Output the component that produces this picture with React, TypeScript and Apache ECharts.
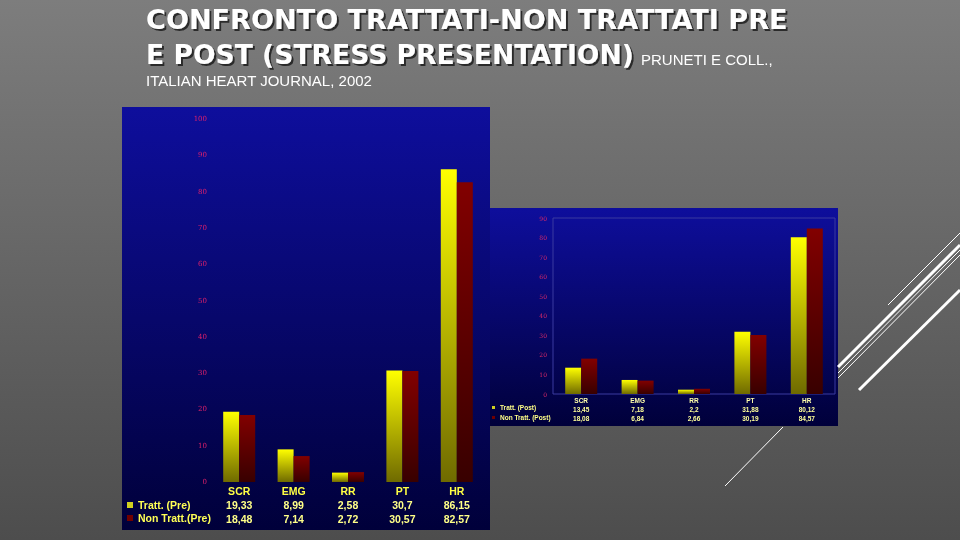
import React, { useEffect, useRef } from "react";
import * as echarts from "echarts";

const categories = ["SCR", "EMG", "RR", "PT", "HR"];
const trattPre = [19.33, 8.99, 2.58, 30.7, 86.15];
const nonTrattPre = [18.48, 7.14, 2.72, 30.57, 82.57];
const trattPost = [13.45, 7.18, 2.2, 31.88, 80.12];
const nonTrattPost = [18.08, 6.84, 2.66, 30.19, 84.57];
const preNames = ["Tratt. (Pre)", "Non Tratt.(Pre)"];
const postNames = ["Tratt. (Post)", "Non Tratt. (Post)"];
const preAxis = { min: 0, max: 100, interval: 10 };
const postAxis = { min: 0, max: 90, interval: 10 };
const titleLine1 = "CONFRONTO TRATTATI-NON TRATTATI PRE";
const titleLine2 = "E POST (STRESS PRESENTATION)";
const titleNote = "PRUNETI E COLL.,";
const titleLine3 = "ITALIAN HEART JOURNAL, 2002";

const fmt = (v: number) => String(v).replace(".", ",");

const yellowGrad = () =>
  new echarts.graphic.LinearGradient(0, 0, 0, 1, [
    { offset: 0, color: "#ffff00" },
    { offset: 1, color: "#6f6a00" },
  ]);
const redGrad = () =>
  new echarts.graphic.LinearGradient(0, 0, 0, 1, [
    { offset: 0, color: "#820000" },
    { offset: 1, color: "#380000" },
  ]);
const panelGrad = () =>
  new echarts.graphic.LinearGradient(0, 0, 0, 1, [
    { offset: 0, color: "#0e0e9c" },
    { offset: 1, color: "#00003a" },
  ]);

export default function App() {
  const ref = useRef<HTMLDivElement>(null);
  useEffect(() => {
    if (!ref.current) return;
    const chart = echarts.init(ref.current, null, { renderer: "svg" });
    const font = "DejaVu Sans";
    const tfont = "Liberation Sans";
    const shadow = {
      textShadowColor: "rgba(20,20,20,0.75)",
      textShadowOffsetX: 2,
      textShadowOffsetY: 2,
      textShadowBlur: 1,
    };
    const lineEl = (x1: number, y1: number, x2: number, y2: number, w: number) => ({
      type: "line",
      z: -5,
      shape: { x1, y1, x2, y2 },
      style: { stroke: "#ffffff", lineWidth: w },
    });
    const option: any = {
      animation: false,
      graphic: [
        {
          type: "rect",
          z: -20,
          shape: { x: 0, y: 0, width: 960, height: 540 },
          style: {
            fill: new echarts.graphic.LinearGradient(0, 0, 0, 1, [
              { offset: 0, color: "#7d7d7d" },
              { offset: 1, color: "#4d4d4d" },
            ]),
          },
        },
        lineEl(888, 305, 960, 233, 1),
        lineEl(838, 367, 960, 245, 3),
        lineEl(838, 373, 960, 250, 1),
        lineEl(838, 378, 960, 255, 1),
        lineEl(859, 390, 960, 290, 3),
        lineEl(725, 486, 783, 427, 1),
        {
          type: "rect",
          z: -10,
          shape: { x: 122, y: 107, width: 368, height: 423 },
          style: { fill: panelGrad() },
        },
        {
          type: "rect",
          z: -9,
          shape: { x: 490, y: 208, width: 348, height: 218 },
          style: { fill: panelGrad() },
        },
        {
          type: "text",
          z: 10,
          x: 146,
          y: 19,
          style: {
            text: titleLine1,
            fill: "#ffffff",
            font: `bold 27.1px "${font}"`,
            verticalAlign: "middle",
            ...shadow,
          },
        },
        {
          type: "text",
          z: 10,
          x: 146,
          y: 54,
          style: {
            text: titleLine2,
            fill: "#ffffff",
            font: `bold 26.6px "${font}"`,
            verticalAlign: "middle",
            ...shadow,
          },
        },
        {
          type: "text",
          z: 10,
          x: 641,
          y: 59,
          style: {
            text: titleNote,
            fill: "#ffffff",
            font: `15px "${tfont}"`,
            verticalAlign: "middle",
          },
        },
        {
          type: "text",
          z: 10,
          x: 146,
          y: 80,
          style: {
            text: titleLine3,
            fill: "#ffffff",
            font: `15px "${tfont}"`,
            verticalAlign: "middle",
          },
        },
      ],
      legend: [
        {
          data: [
            { name: preNames[0], itemStyle: { color: "#d0d020" } },
            { name: preNames[1], itemStyle: { color: "#700000" } },
          ],
          orient: "vertical",
          left: 127,
          top: 499,
          padding: 0,
          itemWidth: 6,
          itemHeight: 6,
          itemGap: 1,
          icon: "rect",
          selectedMode: false,
          textStyle: {
            color: "#ffff55",
            fontSize: 10.5,
            fontWeight: "bold",
            fontFamily: tfont,
            lineHeight: 12,
          },
        },
        {
          data: [
            { name: postNames[0], itemStyle: { color: "#d0d020" } },
            { name: postNames[1], itemStyle: { color: "#700000" } },
          ],
          orient: "vertical",
          left: 492,
          top: 403,
          padding: 0,
          itemWidth: 3,
          itemHeight: 3,
          itemGap: 1,
          icon: "rect",
          selectedMode: false,
          textStyle: {
            color: "#ffff88",
            fontSize: 6.5,
            fontWeight: "bold",
            fontFamily: tfont,
            lineHeight: 9,
          },
        },
      ],
      grid: [
        { left: 212, top: 119, width: 272, height: 363, show: false },
        {
          left: 553,
          top: 218,
          width: 282,
          height: 176,
          show: true,
          borderColor: "#3a3aa0",
          borderWidth: 1,
          backgroundColor: "transparent",
        },
      ],
      xAxis: [
        {
          gridIndex: 0,
          type: "category",
          data: categories,
          axisLine: { show: false },
          axisTick: { show: false },
          axisLabel: {
            margin: 2,
            interval: 0,
            formatter: (v: string, i: number) =>
              `{c|${v}}\n{v|${fmt(trattPre[i])}}\n{v|${fmt(nonTrattPre[i])}}`,
            rich: {
              c: { color: "#ffff44", fontSize: 10.5, fontWeight: "bold", fontFamily: tfont, lineHeight: 14 },
              v: { color: "#ffff88", fontSize: 10.5, fontWeight: "bold", fontFamily: tfont, lineHeight: 14 },
            },
          },
        },
        {
          gridIndex: 1,
          type: "category",
          data: categories,
          axisLine: { show: false },
          axisTick: { show: false },
          axisLabel: {
            margin: 2,
            interval: 0,
            formatter: (v: string, i: number) =>
              `{c|${v}}\n{v|${fmt(trattPost[i])}}\n{v|${fmt(nonTrattPost[i])}}`,
            rich: {
              c: { color: "#ffffaa", fontSize: 6.5, fontWeight: "bold", fontFamily: tfont, lineHeight: 9 },
              v: { color: "#ffff99", fontSize: 6.5, fontWeight: "bold", fontFamily: tfont, lineHeight: 9 },
            },
          },
        },
      ],
      yAxis: [
        {
          gridIndex: 0,
          type: "value",
          ...preAxis,
          splitLine: { show: false },
          axisLine: { show: false },
          axisTick: { show: false },
          axisLabel: { color: "#e0206a", fontSize: 7, fontFamily: "DejaVu Serif", margin: 5 },
        },
        {
          gridIndex: 1,
          type: "value",
          ...postAxis,
          splitLine: { show: false },
          axisLine: { show: false },
          axisTick: { show: false },
          axisLabel: { color: "#d82868", fontSize: 6, fontFamily: "DejaVu Serif", margin: 6 },
        },
      ],
      series: [
        {
          name: preNames[0],
          type: "bar",
          xAxisIndex: 0,
          yAxisIndex: 0,
          data: trattPre,
          barWidth: 16,
          barGap: "0%",
          itemStyle: { color: yellowGrad() },
        },
        {
          name: preNames[1],
          type: "bar",
          xAxisIndex: 0,
          yAxisIndex: 0,
          data: nonTrattPre,
          barWidth: 16,
          barGap: "0%",
          itemStyle: { color: redGrad() },
        },
        {
          name: postNames[0],
          type: "bar",
          xAxisIndex: 1,
          yAxisIndex: 1,
          data: trattPost,
          barWidth: 16,
          barGap: "0%",
          itemStyle: { color: yellowGrad() },
        },
        {
          name: postNames[1],
          type: "bar",
          xAxisIndex: 1,
          yAxisIndex: 1,
          data: nonTrattPost,
          barWidth: 16,
          barGap: "0%",
          itemStyle: { color: redGrad() },
        },
      ],
    };
    chart.setOption(option);
    return () => chart.dispose();
  }, []);
  return (
    <div
      ref={ref}
      style={{ position: "fixed", left: 0, top: 0, width: 960, height: 540 }}
    />
  );
}
